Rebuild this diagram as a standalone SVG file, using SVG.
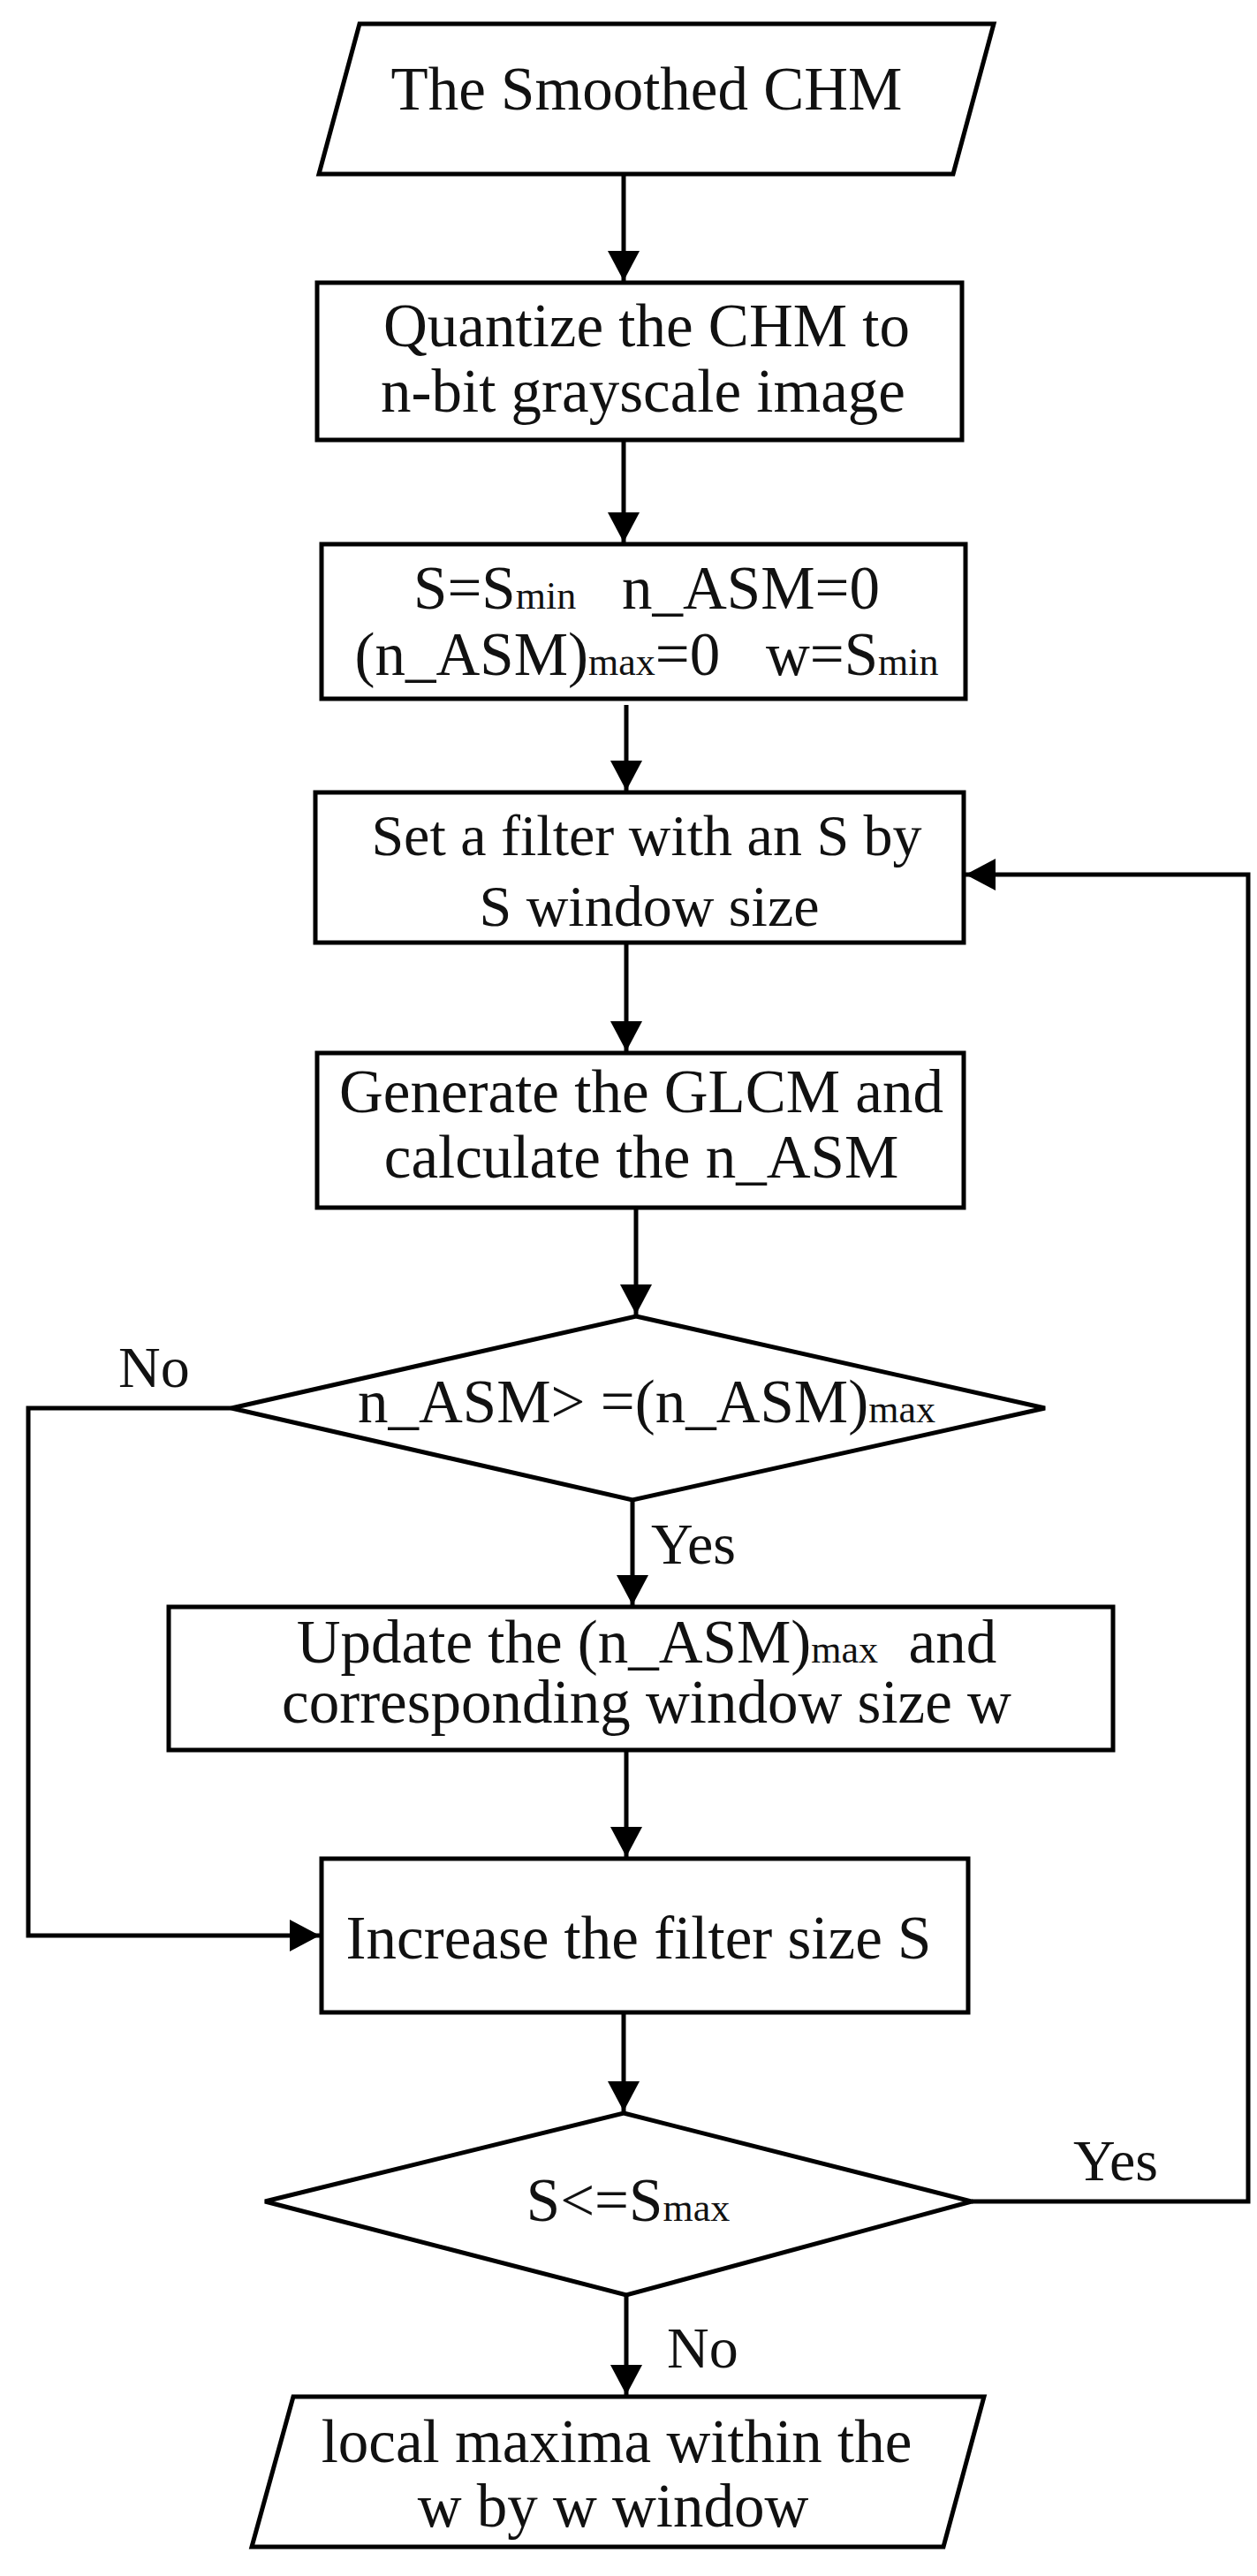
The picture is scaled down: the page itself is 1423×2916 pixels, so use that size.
<svg xmlns="http://www.w3.org/2000/svg" width="1423" height="2916" viewBox="0 0 1423 2916">
<style>
.s{fill:#fff;stroke:#000;stroke-width:5}
.t{font-family:"Liberation Serif","Times New Roman",serif;font-size:69px;fill:#111;text-anchor:middle}
.u{font-size:66px}
.l{font-family:"Liberation Serif","Times New Roman",serif;font-size:66px;fill:#111}
.c{fill:none;stroke:#000;stroke-width:5}
.sub{font-size:44px}
</style>
<defs>
<marker id="a" markerUnits="userSpaceOnUse" markerWidth="40" markerHeight="36" refX="34" refY="18" orient="auto">
<path d="M0,0 L34,18 L0,36 Z" fill="#000"/>
</marker>
</defs>
<rect width="1423" height="2916" fill="#fff"/>
<g id="n1"><polygon class="s" points="407,27 1125,27 1079,197 361,197"/><text class="t" x="732" y="124">The Smoothed CHM</text></g>
<g id="n2"><rect class="s" x="359" y="320" width="730" height="178"/><text class="t" x="732" y="392">Quantize the CHM to</text><text class="t" x="728" y="466">n-bit grayscale image</text></g>
<g id="n3"><rect class="s" x="364" y="616" width="729" height="175"/>
<text class="t" x="732" y="689" xml:space="preserve">S=S<tspan class="sub">min</tspan>   n_ASM=0</text>
<text class="t" x="732" y="764" xml:space="preserve">(n_ASM)<tspan class="sub">max</tspan>=0   w=S<tspan class="sub">min</tspan></text></g>
<g id="n4"><rect class="s" x="357" y="897" width="734" height="170"/><text class="t u" x="732" y="968">Set a filter with an S by</text><text class="t u" x="735" y="1048">S window size</text></g>
<g id="n5"><rect class="s" x="359" y="1192" width="732" height="175"/><text class="t" x="726" y="1259">Generate the GLCM and</text><text class="t" x="726" y="1333">calculate the n_ASM</text></g>
<g id="n6"><polygon class="s" points="720,1490 1183,1594 716,1698 262,1594"/><text class="t" x="732" y="1610">n_ASM&gt; =(n_ASM)<tspan class="sub">max</tspan></text></g>
<g id="n7"><rect class="s" x="191" y="1819" width="1069" height="162"/><text class="t" x="732" y="1882" xml:space="preserve">Update the (n_ASM)<tspan class="sub">max</tspan>  and</text><text class="t" x="732" y="1950">corresponding window size w</text></g>
<g id="n8"><rect class="s" x="364" y="2104" width="732" height="174"/><text class="t" x="723" y="2217">Increase the filter size S</text></g>
<g id="n9"><polygon class="s" points="706,2392 1100,2492 709,2598 300,2492"/><text class="t" x="711" y="2514">S&lt;=S<tspan class="sub">max</tspan></text></g>
<g id="n10"><polygon class="s" points="332,2713 1114,2713 1068,2883 285,2883"/><text class="t" x="698" y="2787">local maxima within the</text><text class="t" x="694" y="2860">w by w window</text></g>
<g id="connectors">
<line class="c" x1="706" y1="197" x2="706" y2="318" marker-end="url(#a)"/>
<line class="c" x1="706" y1="498" x2="706" y2="614" marker-end="url(#a)"/>
<line class="c" x1="709" y1="798" x2="709" y2="895" marker-end="url(#a)"/>
<line class="c" x1="709" y1="1067" x2="709" y2="1190" marker-end="url(#a)"/>
<line class="c" x1="720" y1="1367" x2="720" y2="1488" marker-end="url(#a)"/>
<line class="c" x1="716" y1="1698" x2="716" y2="1817" marker-end="url(#a)"/>
<polyline class="c" points="262,1594 32,1594 32,2191 362,2191" marker-end="url(#a)"/>
<line class="c" x1="709" y1="1981" x2="709" y2="2102" marker-end="url(#a)"/>
<line class="c" x1="706" y1="2278" x2="706" y2="2390" marker-end="url(#a)"/>
<polyline class="c" points="1100,2492 1413,2492 1413,990 1093,990" marker-end="url(#a)"/>
<line class="c" x1="709" y1="2598" x2="709" y2="2711" marker-end="url(#a)"/>
<text class="l" x="134" y="1570">No</text>
<text class="l" x="737" y="1770">Yes</text>
<text class="l" x="1215" y="2468">Yes</text>
<text class="l" x="755" y="2680">No</text>
</g>
</svg>
